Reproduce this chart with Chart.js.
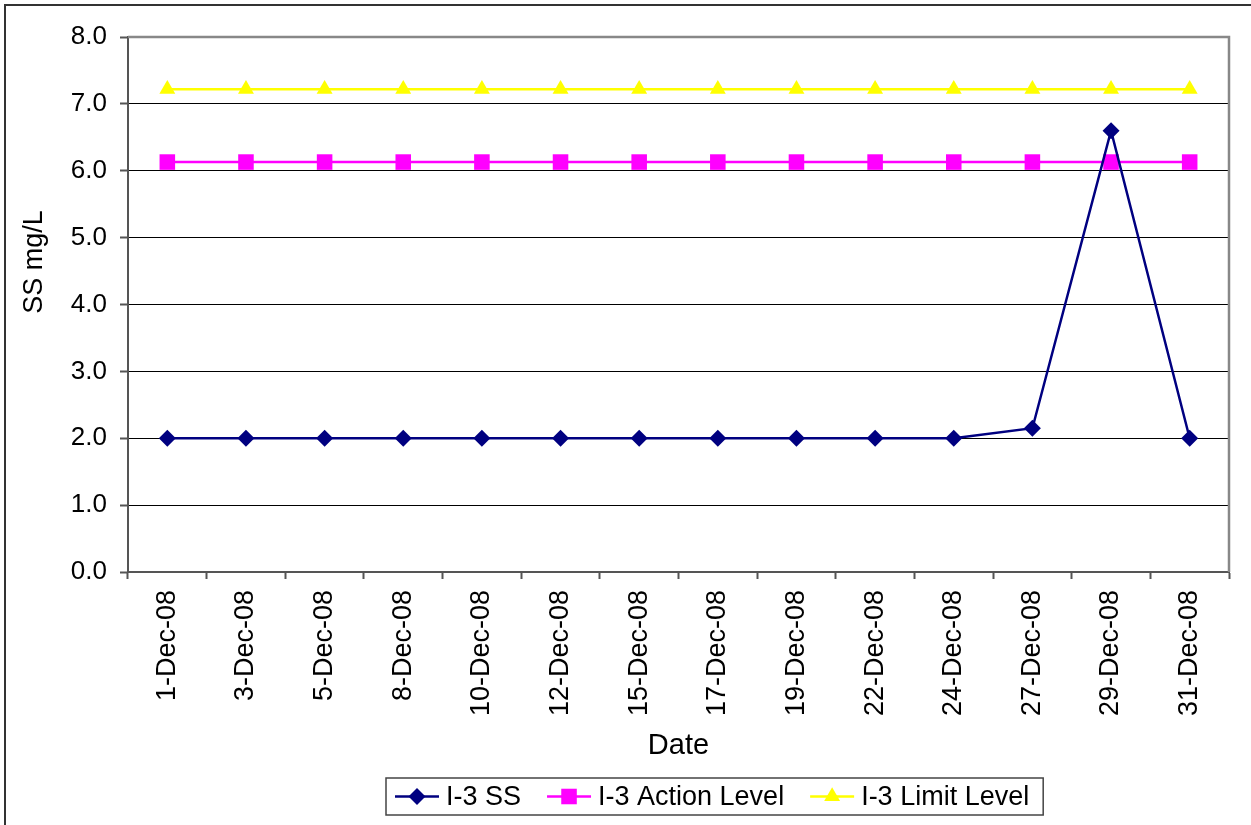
<!DOCTYPE html>
<html>
<head>
<meta charset="utf-8">
<script src="https://cdn.jsdelivr.net/npm/chart.js@4/dist/chart.umd.min.js"></script>
<style>
  html, body { margin: 0; padding: 0; background: #fff; }
  #wrap { width: 1251px; height: 825px; position: relative; }
</style>
</head>
<body>
<div id="wrap"><canvas id="ssChart"></canvas></div>
<script>
// sampling dates (category axis)
const dates = ["1-Dec-08", "3-Dec-08", "5-Dec-08", "8-Dec-08", "10-Dec-08", "12-Dec-08", "15-Dec-08",
               "17-Dec-08", "19-Dec-08", "22-Dec-08", "24-Dec-08", "27-Dec-08", "29-Dec-08", "31-Dec-08"];

// I-3 suspended solids, mg/L
const ssValues = [2.0, 2.0, 2.0, 2.0, 2.0, 2.0, 2.0, 2.0, 2.0, 2.0, 2.0, 2.15, 6.6, 2.0];
// action / limit levels
const actionLevel = [6.13, 6.13, 6.13, 6.13, 6.13, 6.13, 6.13, 6.13, 6.13, 6.13, 6.13, 6.13, 6.13, 6.13];
const limitLevel = [7.22, 7.22, 7.22, 7.22, 7.22, 7.22, 7.22, 7.22, 7.22, 7.22, 7.22, 7.22, 7.22, 7.22];

const yMin = 0, yMax = 8, yStep = 1;

Chart.defaults.font.family = "'Liberation Sans', Arial, sans-serif";
Chart.defaults.color = '#000';

// little marker painter, used by the legend
function marker(ctx, style, r, x, y, color) {
    ctx.fillStyle = color;
    ctx.beginPath();
    if (style === 'rectRot') {
        ctx.moveTo(x, y - r); ctx.lineTo(x + r, y); ctx.lineTo(x, y + r); ctx.lineTo(x - r, y);
    } else if (style === 'rect') {
        const s = r * Math.SQRT1_2;
        ctx.rect(x - s, y - s, 2 * s, 2 * s);
    } else if (style === 'triangle') {
        ctx.moveTo(x, y - r);
        ctx.lineTo(x + r * Math.sin(2 * Math.PI / 3), y + r / 2);
        ctx.lineTo(x - r * Math.sin(2 * Math.PI / 3), y + r / 2);
    }
    ctx.closePath();
    ctx.fill();
}

const framePlugin = {
    id: 'frame',
    beforeDraw(chart) {
        const ctx = chart.ctx;
        ctx.save();
        ctx.fillStyle = '#fff';
        ctx.fillRect(0, 0, chart.width, chart.height);
        ctx.strokeStyle = '#333';
        ctx.lineWidth = 2;
        ctx.strokeRect(5, 5, chart.width + 40, chart.height + 40);
        ctx.restore();
    },
    beforeDatasetsDraw(chart) {
        // grey plot-area edge on top and right
        const {ctx, chartArea: a} = chart;
        ctx.save();
        ctx.strokeStyle = '#888';
        ctx.lineWidth = 2.5;
        ctx.beginPath();
        ctx.moveTo(a.left, a.top);
        ctx.lineTo(a.right, a.top);
        ctx.lineTo(a.right, a.bottom);
        ctx.stroke();
        ctx.restore();
    },
    afterDraw(chart) {
        const ctx = chart.ctx;
        // y axis title
        ctx.save();
        ctx.font = "27px 'Liberation Sans', Arial, sans-serif";
        ctx.fillStyle = '#000';
        ctx.translate(35, 262);
        ctx.rotate(-Math.PI / 2);
        ctx.textAlign = 'center';
        ctx.textBaseline = 'middle';
        ctx.fillText('SS mg/L', 0, 0);
        ctx.restore();

        // boxed legend
        ctx.save();
        ctx.font = "27px 'Liberation Sans', Arial, sans-serif";
        const sets = chart.data.datasets;
        const sample = 44, gapText = 7, gapItem = 26, padL = 9, padR = 14;
        let w = padL + padR;
        sets.forEach((ds, i) => {
            w += sample + gapText + ctx.measureText(ds.label).width;
            if (i < sets.length - 1) w += gapItem;
        });
        const cx = 715, top = 778, h = 37;
        const left = Math.round(cx - w / 2);
        ctx.fillStyle = '#fff';
        ctx.fillRect(left, top, w, h);
        ctx.strokeStyle = '#444';
        ctx.lineWidth = 1.5;
        ctx.strokeRect(left, top, w, h);
        const cy = top + h / 2;
        let x = left + padL;
        sets.forEach(ds => {
            ctx.strokeStyle = ds.borderColor;
            ctx.lineWidth = ds.borderWidth;
            ctx.beginPath();
            ctx.moveTo(x, cy);
            ctx.lineTo(x + sample, cy);
            ctx.stroke();
            marker(ctx, ds.pointStyle, ds.pointRadius, x + sample / 2, cy, ds.pointBackgroundColor);
            x += sample + gapText;
            ctx.fillStyle = '#000';
            ctx.textAlign = 'left';
            ctx.textBaseline = 'middle';
            ctx.fillText(ds.label, x, cy + 1);
            x += ctx.measureText(ds.label).width + gapItem;
        });
        ctx.restore();
    }
};

const config = {
    type: 'line',
    data: {
        labels: dates,
        datasets: [{
            label: 'I-3 SS',
            data: ssValues,
            borderColor: '#000080',
            backgroundColor: '#000080',
            pointBackgroundColor: '#000080',
            pointBorderColor: '#000080',
            borderWidth: 2.5,
            pointStyle: 'rectRot',
            pointRadius: 8.5,
            pointBorderWidth: 0
        }, {
            label: 'I-3 Action Level',
            data: actionLevel,
            borderColor: '#ff00ff',
            backgroundColor: '#ff00ff',
            pointBackgroundColor: '#ff00ff',
            pointBorderColor: '#ff00ff',
            borderWidth: 2.5,
            pointStyle: 'rect',
            pointRadius: 11,
            pointBorderWidth: 0
        }, {
            label: 'I-3 Limit Level',
            data: limitLevel,
            borderColor: '#ffff00',
            backgroundColor: '#ffff00',
            pointBackgroundColor: '#ffff00',
            pointBorderColor: '#ffff00',
            borderWidth: 2.5,
            pointStyle: 'triangle',
            pointRadius: 9.2,
            pointBorderWidth: 0
        }]
    },
    options: {
        responsive: true,
        maintainAspectRatio: false,
        animation: false,
        layout: { padding: { left: 0, top: 37, right: 22, bottom: 60 } },
        scales: {
            x: {
                type: 'category',
                offset: true,
                grid: { offset: true, drawOnChartArea: false, drawTicks: true, tickLength: 7, tickColor: '#555', tickWidth: 2 },
                border: { color: '#555', width: 2 },
                ticks: { autoSkip: false, minRotation: 90, maxRotation: 90, padding: 11, font: { size: 27 } },
                title: { display: true, text: 'Date', font: { size: 29 }, padding: { top: 4, bottom: 2 } },
                afterFit(scale) { scale.height = 825 - 60 - 572; }
            },
            y: {
                min: yMin,
                max: yMax,
                grid: { color: '#000', lineWidth: 1, tickLength: 8, tickColor: '#555', tickWidth: 2 },
                border: { color: '#555', width: 2 },
                ticks: { stepSize: yStep, padding: 13, font: { size: 26 }, callback: v => v.toFixed(1) },
                afterFit(scale) { scale.width = 128; }
            }
        },
        plugins: {
            legend: { display: false },
            tooltip: { enabled: false }
        }
    },
    plugins: [framePlugin]
};

const ssChart = new Chart(document.getElementById('ssChart'), config);
</script>
</body>
</html>
